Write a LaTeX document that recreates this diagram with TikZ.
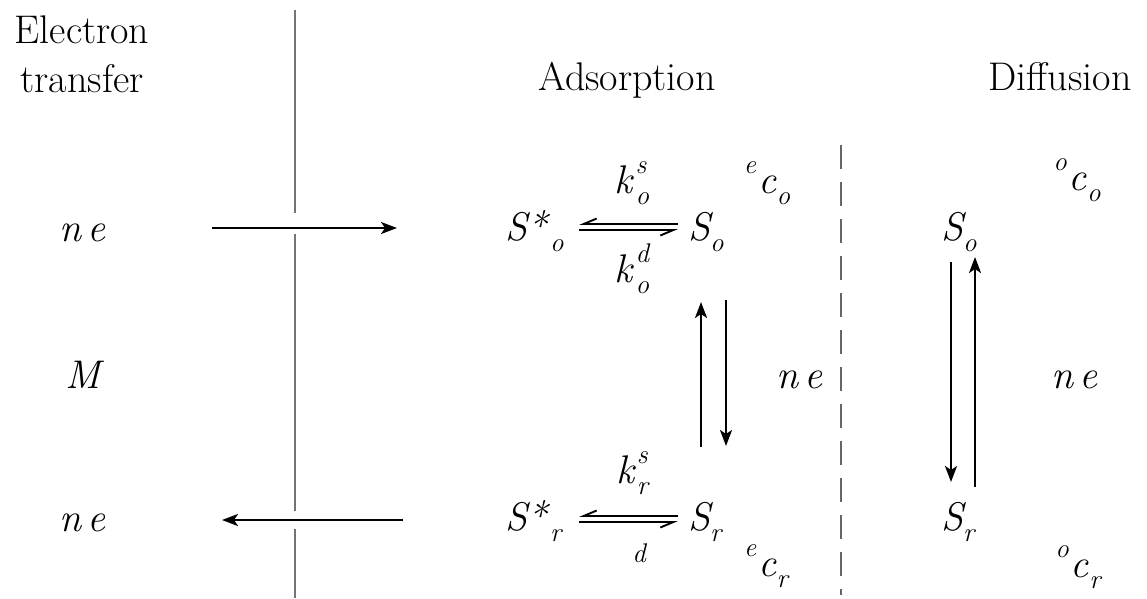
\documentclass[tikz,border=0pt]{standalone}
\usepackage{fontspec}
\usetikzlibrary{arrows.meta}
\newcommand\lo[1]{\raisebox{-0.28em}{\fontsize{27}{29}\selectfont\itshape #1}}
\newcommand\hi[1]{\raisebox{0.5em}{\fontsize{27}{29}\selectfont\itshape #1}}
\newcommand\kk[2]{\textit{k}\kern1pt\rlap{\hi{#2}}\lo{#1}}
\newcommand\cc[2]{\hi{#1}\kern2pt\textit{c}\lo{#2}}
\newcommand\Sx[1]{\textit{S}\kern-3pt\lo{#1}}
\begin{document}
\begin{tikzpicture}[x=1pt,y=-1pt,
  txt/.style={inner sep=0pt,anchor=base,font=\fontsize{40}{49}\selectfont},
  arr/.style={line width=2.2pt,-{Stealth[length=16pt,width=12pt,inset=4pt]}},
  harpL/.style={line width=1.9pt,-{Straight Barb[harpoon,swap,length=13pt,width=11pt]}},
  membrane/.style={line width=2.8pt,draw=black!55},
  sep/.style={line width=1.8pt,draw=black!60,dash pattern=on 24pt off 13pt}]
\useasboundingbox (0,0) rectangle (1147,598);
% headings
\node[txt,align=center] (et) at (82,92) {Electron\\transfer};
\node[txt] (ads) at (627,90) {Adsorption};
\node[txt] (dif) at (1060,90) {Diffusion};
% left column
\node[txt] (ne1) at (83,241) {\textit{n\kern6pt e}};
\node[txt] (M) at (85,388) {\textit{M}};
\node[txt] (ne2) at (83,531) {\textit{n\kern6pt e}};
% membrane line
\draw[membrane] (295,10) -- (295,213) (295,234) -- (295,511) (295,529) -- (295,598);
% electron arrows
\coordinate (ta1) at (212,228); \coordinate (ta2) at (397,228);
\coordinate (tb1) at (403,520); \coordinate (tb2) at (222,520);
\draw[arr] (ta1) -- (ta2);
\draw[arr] (tb1) -- (tb2);
% adsorption top
\node[txt,anchor=base west] (Sso) at (505,240) {\textit{S*}\lo{o}};
\node[txt,anchor=base west] (So) at (688,240) {\Sx{o}};
\node[txt] (kos) at (632,193) {\kk{o}{s}};
\node[txt] (kod) at (632,282) {\kk{o}{d}};
\node[txt] (eco) at (767,193) {\cc{e}{o}};
\coordinate (h1a) at (678,224); \coordinate (h1b) at (579,224);
\coordinate (h2a) at (579,230); \coordinate (h2b) at (678,230);
\draw[harpL] (h1a) -- (h1b);
\draw[harpL] (h2a) -- (h2b);
% adsorption bottom
\node[txt,anchor=base west] (Ssr) at (505,530) {\textit{S*}\lo{r}};
\node[txt,anchor=base west] (Sr) at (688,530) {\Sx{r}};
\node[txt] (krs) at (632,483) {\kk{r}{s}};
\node[txt] (dd) at (639,562) {\fontsize{27}{29}\selectfont\itshape d};
\node[txt] (ecr) at (766,576) {\cc{e}{r}};
\coordinate (h3a) at (678,516); \coordinate (h3b) at (579,516);
\coordinate (h4a) at (579,522); \coordinate (h4b) at (678,522);
\draw[harpL] (h3a) -- (h3b);
\draw[harpL] (h4a) -- (h4b);
% adsorption vertical arrows
\coordinate (va1) at (701,447); \coordinate (va2) at (701,302);
\coordinate (vb1) at (726,300); \coordinate (vb2) at (726,446);
\draw[arr] (va1) -- (va2);
\draw[arr] (vb1) -- (vb2);
\node[txt] (ne3) at (800,388) {\textit{n\kern6pt e}};
% separator
\draw[sep] (841,145) -- (841,595);
% diffusion
\node[txt,anchor=base west] (Sod) at (941,240) {\Sx{o}};
\node[txt,anchor=base west] (Srd) at (941,530) {\Sx{r}};
\node[txt] (oco) at (1077,190) {\cc{o}{o}};
\node[txt] (ocr) at (1078,577) {\cc{o}{r}};
\node[txt] (ne4) at (1075,388) {\textit{n\kern6pt e}};
\coordinate (vc1) at (951,262); \coordinate (vc2) at (951,482);
\coordinate (vd1) at (975,487); \coordinate (vd2) at (975,257);
\draw[arr] (vc1) -- (vc2);
\draw[arr] (vd1) -- (vd2);
\end{tikzpicture}
\end{document}
